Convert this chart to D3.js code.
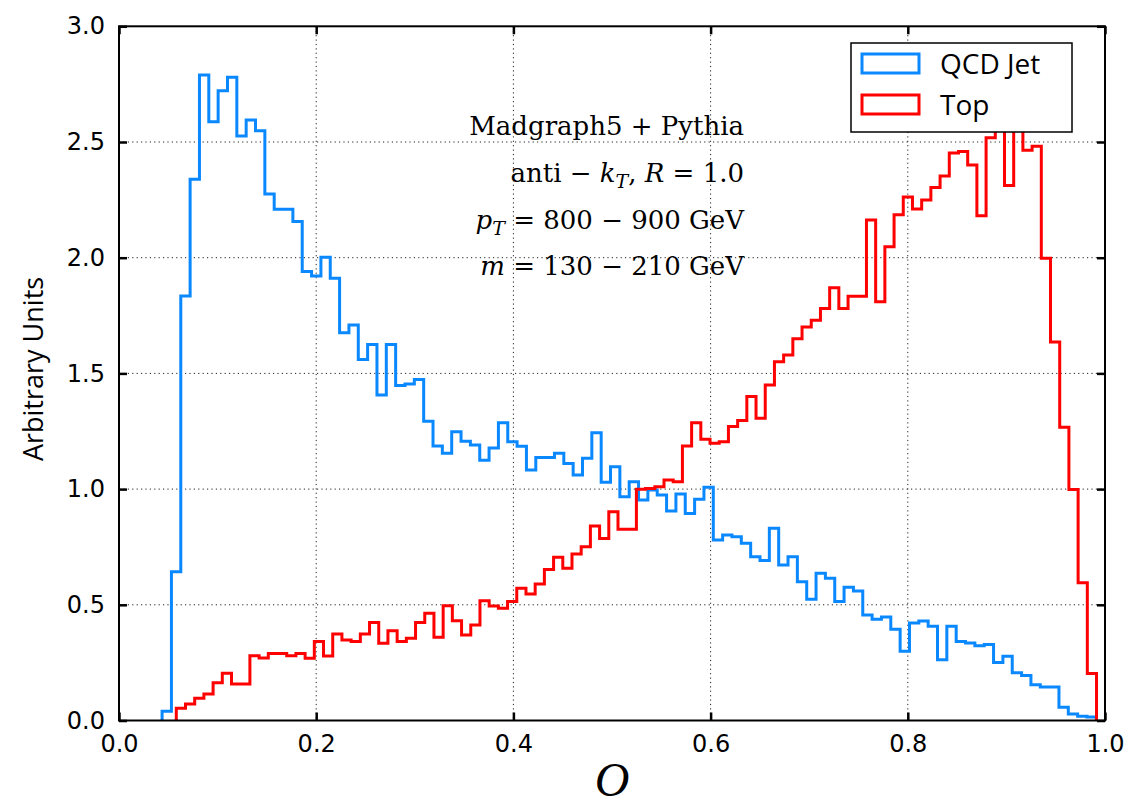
<!DOCTYPE html>
<html>
<head>
<meta charset="utf-8">
<script src="https://cdn.jsdelivr.net/npm/d3@7"></script>
<style>
  html, body { margin: 0; padding: 0; background: #ffffff; }
  svg { display: block; }
</style>
</head>
<body>
<svg id="chart" width="1132" height="806"></svg>
<script>
// Normalised histogram heights, 100 bins per sample, each spanning its own range.
const qcdRange = [0.0437, 0.9912];
const qcdValues = [
  0.040, 0.643, 1.834, 2.339, 2.790, 2.588, 2.722, 2.780, 2.526, 2.595,
  2.549, 2.275, 2.209, 2.209, 2.156, 1.940, 1.921, 2.002, 1.911, 1.676,
  1.709, 1.560, 1.625, 1.407, 1.625, 1.448, 1.454, 1.474, 1.293, 1.186,
  1.155, 1.248, 1.207, 1.191, 1.125, 1.178, 1.287, 1.205, 1.185, 1.083,
  1.137, 1.137, 1.155, 1.111, 1.061, 1.133, 1.243, 1.030, 1.097, 0.967,
  1.032, 0.953, 0.996, 0.975, 0.905, 0.979, 0.895, 0.956, 1.008, 0.780,
  0.802, 0.794, 0.766, 0.708, 0.691, 0.831, 0.672, 0.708, 0.600, 0.524,
  0.636, 0.615, 0.514, 0.576, 0.560, 0.456, 0.438, 0.447, 0.394, 0.299,
  0.421, 0.430, 0.407, 0.263, 0.407, 0.341, 0.335, 0.323, 0.328, 0.251,
  0.278, 0.206, 0.194, 0.155, 0.145, 0.145, 0.057, 0.028, 0.018, 0.015
];

const topRange = [0.0581, 0.9914];
const topValues = [
  0.053, 0.071, 0.096, 0.115, 0.163, 0.204, 0.158, 0.158, 0.280, 0.270,
  0.290, 0.290, 0.280, 0.290, 0.269, 0.341, 0.279, 0.374, 0.348, 0.341,
  0.374, 0.423, 0.334, 0.388, 0.341, 0.355, 0.423, 0.463, 0.360, 0.496,
  0.431, 0.369, 0.413, 0.518, 0.495, 0.485, 0.514, 0.571, 0.547, 0.590,
  0.653, 0.705, 0.658, 0.720, 0.751, 0.841, 0.787, 0.902, 0.826, 0.826,
  0.999, 1.003, 1.010, 1.039, 1.032, 1.186, 1.287, 1.215, 1.198, 1.205,
  1.270, 1.296, 1.400, 1.306, 1.450, 1.550, 1.580, 1.650, 1.700, 1.730,
  1.780, 1.870, 1.780, 1.833, 1.833, 2.163, 1.810, 2.047, 2.186, 2.262,
  2.210, 2.249, 2.303, 2.353, 2.452, 2.459, 2.401, 2.181, 2.518, 2.600,
  2.312, 2.570, 2.464, 2.482, 1.998, 1.636, 1.267, 0.998, 0.595, 0.203
];

const seriesNames = ["QCD Jet", "Top"];
const seriesColors = ["#0a88ff", "#ff0000"];
const xTicks = [0.0, 0.2, 0.4, 0.6, 0.8, 1.0];
const yTicks = [0.0, 0.5, 1.0, 1.5, 2.0, 2.5, 3.0];
const infoLines = [
  [{t: "Madgraph5 + Pythia"}],
  [{t: "anti \u2212 "}, {t: "k", i: true}, {t: "T", i: true, sub: true}, {t: ", "}, {t: "R", i: true}, {t: " = 1.0"}],
  [{t: "p", i: true}, {t: "T", i: true, sub: true}, {t: " = 800 \u2212 900 GeV"}],
  [{t: "m", i: true}, {t: " = 130 \u2212 210 GeV"}]
];

const svg = d3.select("#chart");
const L = 119, R = 1105, T = 26.3, B = 720.5;

const x = d3.scaleLinear().domain([0, 1]).range([L, R]);
const y = d3.scaleLinear().domain([0, 3]).range([B, T]);

// dotted grid
const grid = svg.append("g").attr("stroke", "#222").attr("stroke-width", 1)
  .attr("stroke-dasharray", "1.2,3.2");
grid.selectAll("line.gx").data(xTicks.slice(1, -1)).join("line")
  .attr("x1", d => x(d)).attr("x2", d => x(d)).attr("y1", T).attr("y2", B);
grid.selectAll("line.gy").data(yTicks.slice(1, -1)).join("line")
  .attr("x1", L).attr("x2", R).attr("y1", d => y(d)).attr("y2", d => y(d));

// step outline of a histogram
function stepPoints(range, values) {
  const n = values.length;
  const edges = d3.range(n + 1).map(i => range[0] + (range[1] - range[0]) * i / n);
  const pts = [[edges[0], 0]];
  values.forEach((v, i) => { pts.push([edges[i], v]); pts.push([edges[i + 1], v]); });
  pts.push([edges[n], 0]);
  return pts;
}
const line = d3.line().x(d => x(d[0])).y(d => y(d[1]));

const hists = [[qcdRange, qcdValues], [topRange, topValues]];
const plot = svg.append("g");
hists.forEach((h, i) => {
  plot.append("path")
    .attr("d", line(stepPoints(h[0], h[1])))
    .attr("fill", "none")
    .attr("stroke", seriesColors[i])
    .attr("stroke-width", 3)
    .attr("stroke-linejoin", "miter");
});

// axes with inward ticks on all four sides
const fmt = d3.format(".1f");
function styleAxis(g) {
  g.select(".domain").remove();
  g.selectAll(".tick line").attr("stroke", "#000").attr("stroke-width", 2.5);
  g.selectAll(".tick text").attr("fill", "#000")
    .style("font-family", "'DejaVu Sans', sans-serif").style("font-size", "24px");
}
svg.append("g").attr("transform", `translate(0,${B})`)
  .call(d3.axisBottom(x).tickValues(xTicks).tickFormat(fmt).tickSizeInner(-8).tickSizeOuter(0).tickPadding(14))
  .call(styleAxis);
svg.append("g").attr("transform", `translate(0,${T})`)
  .call(d3.axisTop(x).tickValues(xTicks).tickFormat("").tickSizeInner(-8).tickSizeOuter(0))
  .call(styleAxis);
svg.append("g").attr("transform", `translate(${L},0)`)
  .call(d3.axisLeft(y).tickValues(yTicks).tickFormat(fmt).tickSizeInner(-8).tickSizeOuter(0).tickPadding(14))
  .call(styleAxis);
svg.append("g").attr("transform", `translate(${R},0)`)
  .call(d3.axisRight(y).tickValues(yTicks).tickFormat("").tickSizeInner(-8).tickSizeOuter(0))
  .call(styleAxis);

// frame
svg.append("rect").attr("x", L).attr("y", T).attr("width", R - L).attr("height", B - T)
  .attr("fill", "none").attr("stroke", "#000").attr("stroke-width", 2);

// axis titles
svg.append("text")
  .attr("transform", "translate(43,369) rotate(-90)")
  .attr("text-anchor", "middle")
  .style("font-family", "'Open Sans', sans-serif").style("font-size", "27px")
  .text("Arbitrary Units");
svg.append("text")
  .attr("x", x(0.5)).attr("y", 796)
  .attr("text-anchor", "middle")
  .style("font-family", "'Liberation Serif', serif").style("font-style", "italic").style("font-size", "48px")
  .text("O");

// sample description
const info = svg.append("g")
  .style("font-family", "'DejaVu Serif', serif").style("font-size", "26px");
const baselines = [135, 182, 229, 275];
infoLines.forEach((parts, k) => {
  const t = info.append("text").attr("x", 744).attr("y", baselines[k]).attr("text-anchor", "end");
  let shifted = false;
  parts.forEach(p => {
    const s = t.append("tspan").text(p.t);
    if (p.i) s.style("font-style", "italic");
    if (p.sub) { s.attr("dy", 6).style("font-size", "19px"); shifted = true; }
    else if (shifted) { s.attr("dy", -6); shifted = false; }
  });
});

// legend
const lg = svg.append("g");
lg.append("rect").attr("x", 851).attr("y", 43).attr("width", 221).attr("height", 89)
  .attr("fill", "#fff").attr("stroke", "#000").attr("stroke-width", 1.5);
seriesNames.forEach((name, i) => {
  const yy = 54 + i * 41;
  lg.append("rect").attr("x", 862).attr("y", yy).attr("width", 57).attr("height", 19)
    .attr("fill", "#fff").attr("stroke", seriesColors[i]).attr("stroke-width", 3);
  lg.append("text").attr("x", 940).attr("y", yy + 20)
    .style("font-family", "'Open Sans', sans-serif").style("font-size", "28px")
    .text(name);
});
</script>
</body>
</html>
